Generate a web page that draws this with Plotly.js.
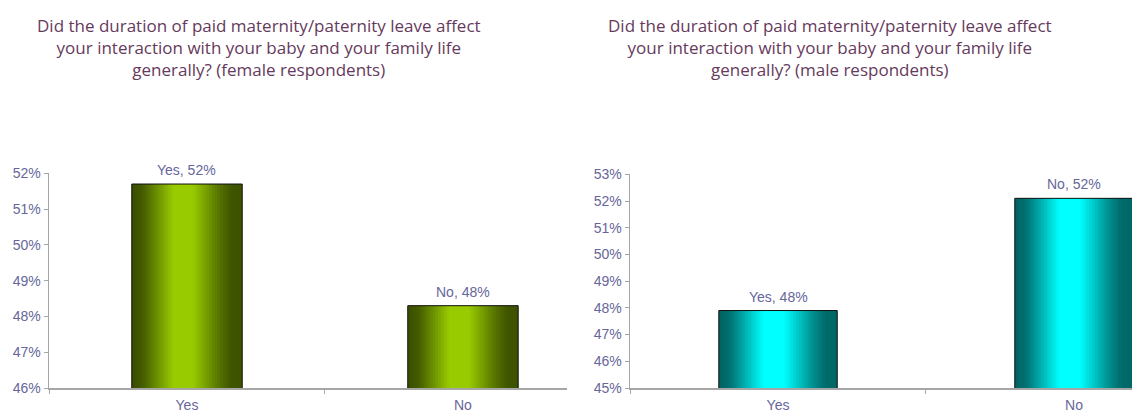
<!DOCTYPE html>
<html>
<head>
<meta charset="utf-8">
<script src="https://cdn.plot.ly/plotly-3.0.1.min.js"></script>
<style>html,body{margin:0;padding:0;background:#fff;}#chart{width:1132px;height:414px;}</style>
</head>
<body>
<div id="chart"></div>
<script>
// ---- data ----
const categories = ["Yes", "No"];
const femaleValues = [51.7, 48.3];
const maleValues = [47.9, 52.1];
const femaleTitle = "Did the duration of paid maternity/paternity leave affect<br>your interaction with your baby and your family life<br>generally? (female respondents)";
const maleTitle = "Did the duration of paid maternity/paternity leave affect<br>your interaction with your baby and your family life<br>generally? (male respondents)";

// ---- styles ----
const labelColor = "#66669a";
const titleColor = "#663a5c";
const axisColor = "#a6a6a6";
const fontFam = "Liberation Sans, Arial, sans-serif";
const BAR_W = 0.4;
const N = 40;

function shade(t) {
  const pts = [[0, 0.38], [0.1, 0.45], [0.38, 1.0], [0.55, 1.0], [0.8, 0.55], [0.9, 0.42], [1, 0.4]];
  for (let i = 1; i < pts.length; i++) {
    if (t <= pts[i][0]) {
      const a = pts[i - 1], b = pts[i];
      return a[1] + (b[1] - a[1]) * (t - a[0]) / (b[0] - a[0]);
    }
  }
  return pts[pts.length - 1][1];
}
function col(base, f) {
  return "rgb(" + base.map(c => Math.round(c * f)).join(",") + ")";
}

function barTraces(values, base, xa, ya) {
  const tr = [];
  const step = BAR_W / N;
  for (let i = 0; i < N; i++) {
    const off = -BAR_W / 2 + i * step;
    const w = Math.min(step * 2, BAR_W / 2 - off);
    tr.push({
      type: "bar", x: categories, y: values, xaxis: xa, yaxis: ya,
      width: w, offset: off,
      marker: {color: col(base, shade((i + 0.5) / N)), line: {width: 0}},
      hoverinfo: "skip", showlegend: false
    });
  }
  tr.push({
    type: "bar", x: categories, y: values, xaxis: xa, yaxis: ya,
    width: BAR_W, offset: -BAR_W / 2,
    marker: {color: "rgba(0,0,0,0)", line: {width: 1, color: "#111"}},
    hoverinfo: "skip", showlegend: false
  });
  return tr;
}

const traces = [].concat(
  barTraces(femaleValues, [153, 204, 0], "x", "y"),
  barTraces(maleValues, [0, 255, 255], "x2", "y2")
);

function valueAnnots(values, xr, yr) {
  return categories.map((c, i) => ({
    x: c, y: values[i], xref: xr, yref: yr,
    text: c + ", " + Math.round(values[i]) + "%",
    showarrow: false, yanchor: "bottom", yshift: 4,
    font: {family: fontFam, size: 14, color: labelColor}
  }));
}

const xBase = {
  type: "category", showgrid: false, zeroline: false, showline: true,
  linecolor: axisColor, linewidth: 1.5, ticks: "outside", tickson: "boundaries",
  ticklen: 4, tickcolor: axisColor, ticklabelstandoff: 4,
  tickfont: {family: fontFam, size: 14, color: labelColor}, fixedrange: true
};
const yBase = {
  showgrid: false, zeroline: false, showline: true, linecolor: axisColor, linewidth: 1.5,
  ticks: "outside", ticklen: 4, tickcolor: axisColor, dtick: 1, ticksuffix: "%",
  tickfont: {family: fontFam, size: 14, color: labelColor}, fixedrange: true
};

const layout = {
  width: 1132, height: 414,
  margin: {l: 0, r: 0, t: 0, b: 0},
  paper_bgcolor: "#fff", plot_bgcolor: "rgba(0,0,0,0)",
  barmode: "overlay",
  xaxis: Object.assign({}, xBase, {domain: [49 / 1132, 567 / 1132], range: [-0.5, 1.377], anchor: "y"}),
  yaxis: Object.assign({}, yBase, {domain: [26 / 414, 240.7 / 414], range: [46, 52], anchor: "x"}),
  xaxis2: Object.assign({}, xBase, {domain: [630 / 1132, 1], range: [-0.5, 1.196], anchor: "y2"}),
  yaxis2: Object.assign({}, yBase, {domain: [26 / 414, 239.7 / 414], range: [45, 53], anchor: "x2"}),
  annotations: [
    {text: femaleTitle, x: 259 / 1132, y: 1 - 12 / 414, xref: "paper", yref: "paper",
     xanchor: "center", yanchor: "top", showarrow: false, align: "center",
     font: {family: "Open Sans, sans-serif", size: 17, color: titleColor}},
    {text: maleTitle, x: 830 / 1132, y: 1 - 12 / 414, xref: "paper", yref: "paper",
     xanchor: "center", yanchor: "top", showarrow: false, align: "center",
     font: {family: "Open Sans, sans-serif", size: 17, color: titleColor}}
  ].concat(valueAnnots(femaleValues, "x", "y"), valueAnnots(maleValues, "x2", "y2"))
};

Plotly.newPlot("chart", traces, layout, {displayModeBar: false, staticPlot: true});
</script>
</body>
</html>
